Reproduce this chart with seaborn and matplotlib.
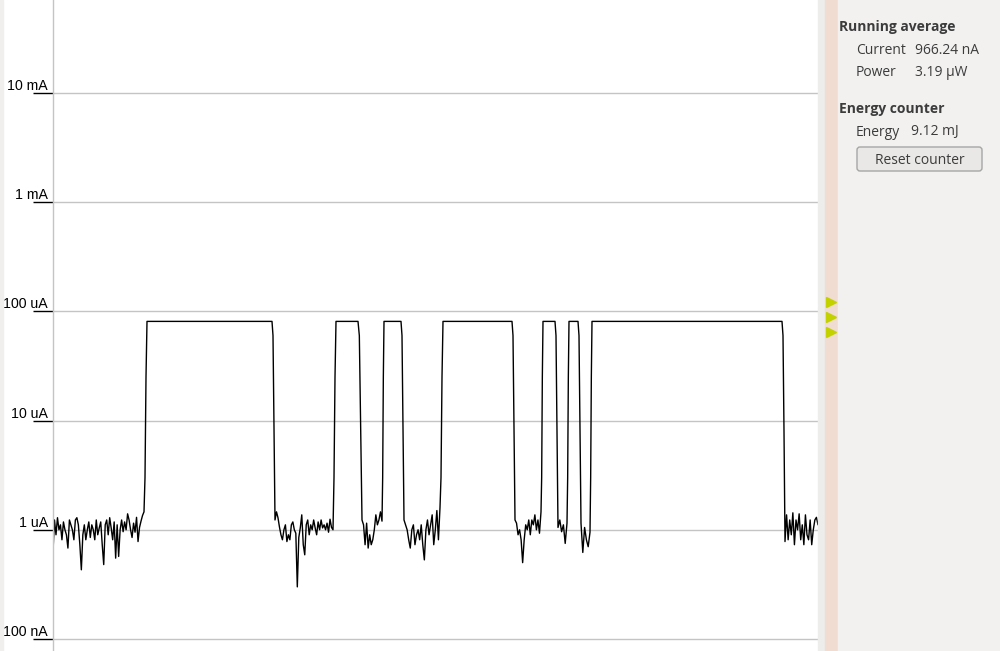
import numpy as np
import pandas as pd
import matplotlib.pyplot as plt
import seaborn as sns
from matplotlib.patches import Rectangle, FancyBboxPatch
from matplotlib.lines import Line2D

# ---------------------------------------------------------------
# Trace data: time in ms, current in µA
# ---------------------------------------------------------------
high_level = 81.0
rise_steps = [3.0, 25.0]
fall_steps = [60.0, 8.0]

plateau_spans = [(94, 219), (283, 305), (331, 348), (390, 459),
                 (490, 502), (516, 525), (539, 729)]
quiet_spans = [(0, 91), (222, 280), (309, 329), (351, 387),
               (462, 488), (505, 514), (528, 537), (732, 765)]

quiet_1 = [0.63, 1.23, 0.90, 1.29, 1.00, 1.11, 0.81, 1.18, 1.00, 0.90,
           0.68, 1.23, 1.11, 1.00, 0.81, 1.23, 1.29, 1.11, 0.73, 0.43,
           0.90, 1.11, 0.81, 1.00, 1.18, 0.85, 1.11, 1.00, 0.81, 1.23,
           0.90, 1.04, 1.18, 0.73, 0.48, 1.11, 1.23, 0.90, 1.29, 1.04,
           0.81, 1.18, 0.55, 1.11, 0.57, 1.00, 1.23, 0.96, 1.18, 1.00,
           1.40, 1.23, 1.00, 0.85, 1.15, 0.95, 1.30, 0.78, 1.05, 1.20,
           1.35, 1.46]
quiet_2 = [1.23, 1.46, 1.29, 1.06, 0.90, 0.81, 1.00, 1.11, 0.78, 0.90,
           0.81, 1.11, 1.18, 1.00, 0.93, 0.30, 0.85, 1.04, 1.37, 0.73,
           0.59, 1.11, 1.23, 0.90, 1.11, 1.00, 1.23, 1.04, 0.90, 1.18,
           1.00, 1.23, 1.04, 1.11, 1.00, 1.15, 0.95, 1.25, 1.05, 1.00]
quiet_3 = [1.23, 1.11, 0.73, 1.15, 0.68, 0.90, 0.73, 0.81, 1.00, 1.37,
           1.11, 1.23, 1.46, 1.20]
quiet_4 = [1.23, 1.11, 1.00, 0.81, 0.68, 1.00, 1.11, 0.73, 0.90, 1.00,
           0.81, 1.11, 0.73, 0.53, 1.00, 1.23, 0.90, 1.11, 1.37, 0.73,
           1.00, 1.50, 0.81, 1.60]
quiet_5 = [1.23, 1.15, 0.90, 1.00, 0.81, 0.50, 0.81, 1.11, 1.00, 1.23,
           0.90, 1.23, 1.11, 1.37, 1.00, 1.23, 0.93, 1.46]
quiet_6 = [1.05, 1.23, 0.96, 1.11, 0.75, 1.15]
quiet_7 = [1.15, 0.62, 1.05, 0.81, 0.70, 0.95]
quiet_8 = [0.78, 1.37, 0.81, 1.23, 0.90, 1.43, 0.73, 1.23, 1.00, 1.40,
           0.81, 1.11, 0.73, 1.37, 0.90, 0.81, 1.23, 0.73, 1.00, 1.23,
           1.30, 1.11]
quiet_levels = [quiet_1, quiet_2, quiet_3, quiet_4,
                quiet_5, quiet_6, quiet_7, quiet_8]

tick_values = [0.1, 1, 10, 100, 1000, 10000]
tick_labels = ["100 nA", "1 uA", "10 uA", "100 uA", "1 mA", "10 mA"]

# assemble the sample sequence
times, currents = [], []
for k, (q0, q1) in enumerate(quiet_spans):
    vals = quiet_levels[k]
    times += list(np.linspace(q0, q1, len(vals)))
    currents += vals
    if k < len(plateau_spans):
        p0, p1 = plateau_spans[k]
        times += list(np.linspace(q1, p0, len(rise_steps) + 2)[1:-1])
        currents += rise_steps
        times += [p0, p1]
        currents += [high_level, high_level]
        n0 = quiet_spans[k + 1][0]
        times += list(np.linspace(p1, n0, len(fall_steps) + 2)[1:-1])
        currents += fall_steps

df = pd.DataFrame({"t": times, "current": currents})

# ---------------------------------------------------------------
# Figure
# ---------------------------------------------------------------
sns.set_theme(style="white")
plt.rcParams['font.family'] = ['Liberation Sans', 'DejaVu Sans']

W, H = 1000, 651
fig = plt.figure(figsize=(W / 100, H / 100), dpi=100)
fig.patch.set_facecolor('white')

ax = fig.add_axes([53 / W, 0, 765 / W, 1])
ax.set_facecolor('white')

sns.lineplot(data=df, x="t", y="current", ax=ax, color='black',
             lw=1.0, estimator=None, sort=False)

ax.set_yscale('log')
ax.set_xlim(0, 765)
ax.set_ylim(0.0776, 71100)
ax.set_yticks(tick_values)
ax.yaxis.set_minor_locator(plt.NullLocator())
ax.set_xticks([])
ax.tick_params(axis='y', direction='out', length=14.4, width=1.0,
               color='black', labelleft=False, left=True)
ax.grid(axis='y', color='#c4c4c4', lw=1.0)
ax.grid(axis='x', visible=False)
ax.set_xlabel("")
ax.set_ylabel("")
for side in ['top', 'right', 'bottom']:
    ax.spines[side].set_visible(False)
ax.spines['left'].set_color('#c4c4c4')
ax.spines['left'].set_linewidth(1.0)

for v, lab in zip(tick_values, tick_labels):
    ax.text(-5 / 765, v, lab, transform=ax.get_yaxis_transform(),
            ha='right', va='bottom', fontsize=10.2, color='black')

# ---------------------------------------------------------------
# Side panel (pixel coords -> inches)
# ---------------------------------------------------------------
def px(x, y):
    return x / 100, (H - y) / 100

tr = fig.dpi_scale_trans
fig.patches.append(Rectangle(px(0, H), 0.03, H / 100, transform=tr,
                             color='#f0efee', zorder=0))
fig.patches.append(Rectangle(px(818, H), 0.07, H / 100, transform=tr,
                             color='#ededeb', zorder=0))
fig.patches.append(Rectangle(px(825, H), 0.13, H / 100, transform=tr,
                             color='#f1dcd2', zorder=0))
fig.patches.append(Rectangle(px(838, H), 1.62, H / 100, transform=tr,
                             color='#f2f1f0', zorder=0))

for yy in [302, 317, 332]:
    fig.add_artist(Line2D([px(831, yy)[0]], [px(831, yy)[1]],
                          transform=tr, marker='>', markersize=7,
                          color='#c3d100', linestyle='none'))

panel_font = ['Open Sans', 'DejaVu Sans']
ink = '#3c3c3c'

panel_text = [
    (839, 27, 'Running average', True),
    (856, 50, 'Current', False),
    (915, 50, '966.24 nA', False),
    (856, 73, 'Power', False),
    (915, 73, '3.19 μW', False),
    (839, 109, 'Energy counter', True),
    (856, 132, 'Energy', False),
    (911, 132, '9.12 mJ', False),
]
for (tx, ty, txt, bold) in panel_text:
    x_, y_ = px(tx, ty)
    fig.text(x_, y_, txt, transform=tr, ha='left', va='center', fontsize=10,
             family=panel_font, color=ink,
             fontweight='bold' if bold else 'normal')

bx, by = px(857, 171)
button = FancyBboxPatch((bx, by), 1.25, 0.24, transform=tr,
                        boxstyle="round,pad=0,rounding_size=0.03",
                        facecolor='#e9e8e6', edgecolor='#a6a6a6', lw=1.0)
fig.patches.append(button)
x_, y_ = px(919.5, 160)
fig.text(x_, y_, 'Reset counter', transform=tr, ha='center', va='center',
         fontsize=10, family=panel_font, color=ink)

fig.savefig("out.png", dpi=100)
